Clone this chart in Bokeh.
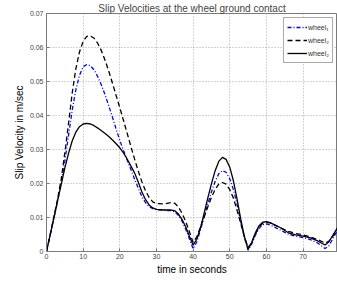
from bokeh.plotting import figure
from bokeh.models import Legend, LegendItem, FixedTicker, Range1d
from bokeh.embed import file_html
from bokeh.resources import INLINE

# ---- data ----
t = [0, 1, 2, 3, 4, 5, 6, 7, 8, 9, 10, 11, 12, 13, 14, 15, 16, 17, 18, 19, 20,
     21, 22, 23, 24, 25, 26, 27, 28, 29, 30, 32, 34, 35, 36, 37, 38, 39, 40,
     41, 42, 43, 44, 45, 46, 47, 48, 49, 50, 51, 52, 53, 54, 55, 56, 57, 58,
     59, 60, 61, 62, 64, 66, 68, 70, 72, 74, 75, 76, 77, 78, 79, 80]

wheel1_dashdot = [0, 0.0048, 0.0097, 0.0147, 0.020, 0.0265, 0.034, 0.0415, 0.0475, 0.0518,
                  0.0543, 0.055, 0.0546, 0.0534, 0.0514, 0.0489, 0.046, 0.0428, 0.0395, 0.036,
                  0.0327, 0.0297, 0.0269, 0.0242, 0.0214, 0.0187, 0.0162, 0.0144, 0.0132, 0.0126,
                  0.0123, 0.0121, 0.012, 0.0117, 0.0106, 0.0089, 0.0065, 0.0037, 0.0008,
                  0.0028, 0.0063, 0.0102, 0.014, 0.0175, 0.0206, 0.0229, 0.0238, 0.0233, 0.0214,
                  0.0182, 0.0138, 0.0088, 0.0041, 0.0004, 0.0022, 0.0048, 0.0068, 0.0079, 0.0081,
                  0.0078, 0.0073, 0.0062, 0.0051, 0.0045, 0.0041, 0.0035, 0.0025, 0.0017, 0.0009,
                  0.0016, 0.0035, 0.0055, 0.0072]

wheel2_dashed = [0, 0.005, 0.0101, 0.0153, 0.0212, 0.029, 0.0375, 0.0465, 0.0537, 0.0587,
                 0.0618, 0.0633, 0.0634, 0.0627, 0.0612, 0.059, 0.0562, 0.053, 0.0495, 0.0459,
                 0.0423, 0.0386, 0.0348, 0.031, 0.0273, 0.0238, 0.0206, 0.0179, 0.0159, 0.0146,
                 0.0141, 0.014, 0.0144, 0.0142, 0.0131, 0.0112, 0.0088, 0.0058, 0.0027,
                 0.0043, 0.0071, 0.0101, 0.0131, 0.0159, 0.0182, 0.0198, 0.0203, 0.0198, 0.0182,
                 0.0157, 0.0121, 0.0082, 0.0043, 0.0012, 0.0026, 0.0052, 0.0072, 0.0083, 0.0086,
                 0.0084, 0.0079, 0.0069, 0.0059, 0.0053, 0.0049, 0.0043, 0.0035, 0.003, 0.0025,
                 0.003, 0.0043, 0.0058, 0.0073]

wheel2_solid = [0, 0.0049, 0.0098, 0.0148, 0.0197, 0.0245, 0.0288, 0.0325, 0.0351, 0.0367,
                0.0375, 0.0377, 0.0375, 0.037, 0.0363, 0.0355, 0.0347, 0.0338, 0.0328, 0.0317,
                0.0305, 0.029, 0.0272, 0.0252, 0.0232, 0.0205, 0.0176, 0.0153, 0.0137, 0.0128,
                0.0124, 0.0122, 0.0122, 0.012, 0.011, 0.0094, 0.0072, 0.0045, 0.0019,
                0.0036, 0.0069, 0.0112, 0.0157, 0.0199, 0.0237, 0.0265, 0.0277, 0.0271, 0.0248,
                0.0208, 0.0154, 0.0095, 0.0044, 0.0006, 0.0027, 0.0055, 0.0076, 0.0086, 0.0088,
                0.0085, 0.008, 0.0069, 0.0055, 0.0049, 0.0045, 0.004, 0.0031, 0.0025, 0.0019,
                0.0028, 0.0045, 0.0063, 0.008]

legend_labels = ["wheel\u2081", "wheel\u2082", "wheel\u2082"]
x_ticks = [0, 10, 20, 30, 40, 50, 60, 70, 80]
y_ticks = [0, 0.01, 0.02, 0.03, 0.04, 0.05, 0.06, 0.07]
y_tick_labels = ["0", "0.01", "0.02", "0.03", "0.04", "0.05", "0.06", "0.07"]

FONT = "Liberation Sans"

p = figure(width=337, height=281, output_backend="svg", toolbar_location=None,
           x_range=Range1d(0, 79.4), y_range=Range1d(0, 0.07),
           min_border_left=46, min_border_right=0, min_border_top=12, min_border_bottom=30,
           title="Slip Velocities at the wheel ground contact")

p.title.text_font = FONT
p.title.text_font_size = "10px"
p.title.text_font_style = "normal"
p.title.align = "center"
p.title.standoff = 0
p.title.offset = 0

p.background_fill_color = "white"
p.border_fill_color = "white"
p.outline_line_color = "#7a7a7a"
p.outline_line_width = 1

for ax in (p.xaxis[0], p.yaxis[0]):
    ax.axis_line_color = "#7a7a7a"
    ax.major_tick_line_color = "#7a7a7a"
    ax.major_tick_in = 3
    ax.major_tick_out = 0
    ax.minor_tick_line_color = None
    ax.major_label_text_font = FONT
    ax.major_label_text_font_size = "7px"
    ax.major_label_text_color = "#444444"
    ax.axis_label_text_font = FONT
    ax.axis_label_text_font_size = "10px"
    ax.axis_label_text_font_style = "normal"
    ax.axis_label_text_color = "black"

p.xaxis.ticker = FixedTicker(ticks=x_ticks)
p.yaxis.ticker = FixedTicker(ticks=y_ticks)
p.yaxis.major_label_overrides = {v: s for v, s in zip(y_ticks, y_tick_labels)}
p.xaxis.major_label_standoff = 2
p.yaxis.major_label_standoff = 3
p.xaxis.axis_label = "time in seconds"
p.yaxis.axis_label = "Slip Velocity in m/sec"
p.xaxis.axis_label_standoff = 2
p.yaxis.axis_label_standoff = 2

for g in (p.xgrid[0], p.ygrid[0]):
    g.grid_line_color = "#a8a8a8"
    g.grid_line_dash = "1 2"
    g.grid_line_width = 1

r1 = p.line(t, wheel1_dashdot, line_color="#0000ff", line_width=1.3, line_dash="4 2 1 2")
r2 = p.line(t, wheel2_dashed, line_color="black", line_width=1.3, line_dash="5 3")
r3 = p.line(t, wheel2_solid, line_color="black", line_width=1.3)

legend = Legend(items=[LegendItem(label=legend_labels[0], renderers=[r1]),
                       LegendItem(label=legend_labels[1], renderers=[r2]),
                       LegendItem(label=legend_labels[2], renderers=[r3])],
                location="top_right")
legend.label_text_font = FONT
legend.label_text_font_size = "7px"
legend.label_text_color = "#333333"
legend.glyph_width = 20
legend.glyph_height = 12
legend.label_height = 12
legend.label_standoff = 1
legend.spacing = 1
legend.padding = 3
legend.margin = 4
legend.border_line_color = "#555555"
legend.border_line_width = 1
legend.background_fill_color = "white"
legend.background_fill_alpha = 1
p.add_layout(legend)

open("out.html", "w").write(file_html(p, INLINE))
